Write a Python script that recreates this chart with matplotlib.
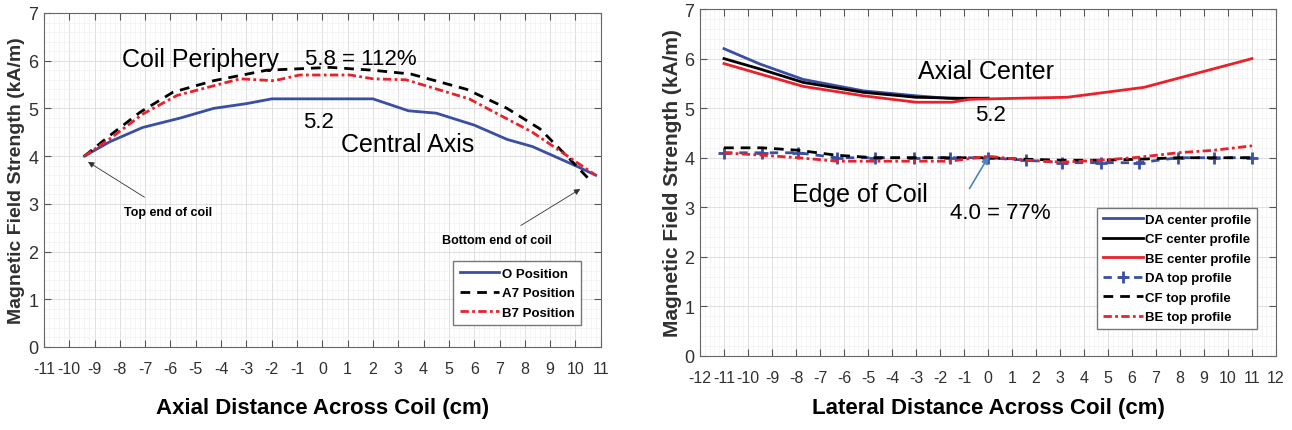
import matplotlib
matplotlib.use("Agg")
import matplotlib.pyplot as plt
from matplotlib.ticker import MultipleLocator, AutoMinorLocator

plt.rcParams["font.family"] = ["Liberation Sans", "DejaVu Sans"]
plt.rcParams["axes.unicode_minus"] = False

# ---- left panel: axial profiles ----
o_x = [-9.4, -8.4, -7.1, -5.6, -4.3, -3.0, -2.0, 0.0, 2.0, 3.4, 4.5, 6.0, 7.3, 8.3, 10.0, 10.8]
o_y = [4.0, 4.3, 4.6, 4.8, 5.0, 5.1, 5.2, 5.2, 5.2, 4.95, 4.9, 4.65, 4.35, 4.2, 3.8, 3.6]
a7_x = [-9.4, -8.4, -7.2, -5.9, -4.3, -2.2, 0.3, 2.0, 3.5, 5.7, 7.3, 8.6, 9.9, 10.6]
a7_y = [4.0, 4.43, 4.92, 5.34, 5.58, 5.8, 5.86, 5.8, 5.72, 5.4, 5.0, 4.57, 3.87, 3.48]
b7_x = [-9.4, -8.4, -7.1, -5.75, -3.25, -1.9, -0.9, 1.1, 2.0, 3.3, 5.8, 8.3, 10.8]
b7_y = [4.0, 4.36, 4.88, 5.27, 5.62, 5.58, 5.7, 5.7, 5.62, 5.6, 5.2, 4.5, 3.6]

# ---- right panel: lateral profiles ----
da_c_x = [-11.0, -9.5, -7.7, -5.2, -3.0, -1.2, 0.0]
da_c_y = [6.2, 5.89, 5.58, 5.35, 5.25, 5.18, 5.2]
cf_c_x = [-11.0, -9.5, -7.7, -5.2, -3.0, -1.2, 0.0]
cf_c_y = [6.0, 5.79, 5.52, 5.32, 5.22, 5.2, 5.2]
be_c_x = [-11.0, -9.5, -7.7, -5.2, -3.0, -1.5, -0.75, 3.3, 6.5, 11.0]
be_c_y = [5.9, 5.69, 5.44, 5.25, 5.12, 5.12, 5.18, 5.22, 5.42, 6.0]
top_x = [-11.0, -9.4, -7.9, -6.3, -4.7, -3.1, -1.6, 0.0, 1.6, 3.1, 4.7, 6.3, 7.9, 9.4, 11.0]
da_t_y = [4.1, 4.1, 4.1, 4.0, 4.0, 4.0, 4.0, 4.0, 3.95, 3.9, 3.9, 3.9, 4.0, 4.0, 4.0]
cf_t_y = [4.2, 4.2, 4.15, 4.05, 4.0, 4.0, 4.0, 4.0, 3.97, 3.95, 3.95, 3.97, 4.0, 4.0, 4.0]
be_t_y = [4.1, 4.05, 4.0, 3.93, 3.93, 3.93, 3.93, 4.03, 3.95, 3.91, 3.95, 4.01, 4.1, 4.15, 4.24]

blue = "#3a4ea3"
red = "#e8212b"
dashdot = (0, (3, 1.2, 1, 1.2))

fig = plt.figure(figsize=(12.92, 4.31), dpi=100)
ax1 = fig.add_axes([0.034, 0.1926, 0.431, 0.775])
ax2 = fig.add_axes([0.5418, 0.1717, 0.4458, 0.805])


def style(ax, xmin, xmax, ylsize):
    ax.set_xlim(xmin, xmax)
    ax.set_ylim(0, 7)
    ax.xaxis.set_major_locator(MultipleLocator(1))
    ax.yaxis.set_major_locator(MultipleLocator(1))
    ax.xaxis.set_minor_locator(AutoMinorLocator(5))
    ax.yaxis.set_minor_locator(AutoMinorLocator(5))
    ax.grid(which="major", color="#dadada", lw=0.6)
    ax.grid(which="minor", color="#eeeeee", lw=0.4)
    ax.set_axisbelow(True)
    ax.tick_params(which="major", direction="in", top=True, right=True, length=5,
                   color="#555555", labelcolor="#303030", pad=4)
    ax.tick_params(axis="x", labelsize=11.5, pad=10)
    ax.tick_params(axis="y", labelsize=13)
    ax.tick_params(which="minor", length=0)
    for s in ax.spines.values():
        s.set_color("#666666")
        s.set_linewidth(0.8)
    ax.set_ylabel("Magnetic Field Strength (kA/m)", fontsize=ylsize, fontweight="bold",
                  color="#303030", labelpad=2)


style(ax1, -11, 11, 14)
ax1.plot(o_x, o_y, color=blue, lw=2, label="O Position")
ax1.plot(a7_x, a7_y, color="black", lw=2, ls=(0, (3.5, 2.5)), label="A7 Position")
ax1.plot(b7_x, b7_y, color=red, lw=2, ls=dashdot, label="B7 Position")
ax1.set_xlabel("Axial Distance Across Coil (cm)", fontsize=16, fontweight="bold", labelpad=15)

ax1.text(-4.8, 6.04, "Coil Periphery", fontsize=18, ha="center", va="center")
ax1.text(1.5, 6.04, "5.8 = 112%", fontsize=16, ha="center", va="center")
ax1.text(-0.17, 4.72, "5.2", fontsize=16, ha="center", va="center")
ax1.text(3.35, 4.26, "Central Axis", fontsize=18, ha="center", va="center")
ax1.annotate("Top end of coil", xy=(-9.26, 3.88), xytext=(-6.1, 2.83),
             fontsize=9, fontweight="bold", ha="center", va="center",
             arrowprops=dict(arrowstyle="-|>", color="#333333", lw=0.6,
                             shrinkA=8, shrinkB=0))
ax1.annotate("Bottom end of coil", xy=(10.19, 3.31), xytext=(6.9, 2.24),
             fontsize=9, fontweight="bold", ha="center", va="center",
             arrowprops=dict(arrowstyle="-|>", color="#333333", lw=0.6,
                             shrinkA=8, shrinkB=0))
ax1.legend(loc="lower right", bbox_to_anchor=(0.977, 0.045), fancybox=False,
           edgecolor="#777777", framealpha=1, handlelength=3, handletextpad=0.2,
           labelspacing=0.55, borderpad=0.5, prop=dict(weight="bold", size=9.5))

style(ax2, -12, 12, 15)
ax2.plot(da_c_x, da_c_y, color=blue, lw=2, label="DA center profile")
ax2.plot(cf_c_x, cf_c_y, color="black", lw=2, label="CF center profile")
ax2.plot(be_c_x, be_c_y, color=red, lw=2, label="BE center profile")
ax2.plot(top_x, da_t_y, color=blue, lw=2, ls=(0, (3, 2.5)), marker="+", ms=8, mew=2,
         label="DA top profile")
ax2.plot(top_x, cf_t_y, color="black", lw=2, ls=(0, (3.5, 2.5)), label="CF top profile")
ax2.plot(top_x, be_t_y, color=red, lw=2, ls=dashdot, label="BE top profile")
ax2.set_xlabel("Lateral Distance Across Coil (cm)", fontsize=16, fontweight="bold", labelpad=9)

ax2.text(-0.1, 5.75, "Axial Center", fontsize=18, ha="center", va="center")
ax2.text(0.1, 4.88, "5.2", fontsize=16, ha="center", va="center")
ax2.text(-5.33, 3.27, "Edge of Coil", fontsize=18, ha="center", va="center")
ax2.annotate("", xy=(0.08, 4.07), xytext=(-0.83, 3.33),
             arrowprops=dict(arrowstyle="-|>", color="#4a86c0", lw=1.2))
ax2.text(0.5, 2.9, "4.0 = 77%", fontsize=16, ha="center", va="center")
ax2.legend(loc="lower right", bbox_to_anchor=(0.979, 0.058), fancybox=False,
           edgecolor="#777777", framealpha=1, handlelength=3, handletextpad=0.2,
           labelspacing=0.55, borderpad=0.45, prop=dict(weight="bold", size=9.5))

fig.savefig("out.png", dpi=100)
